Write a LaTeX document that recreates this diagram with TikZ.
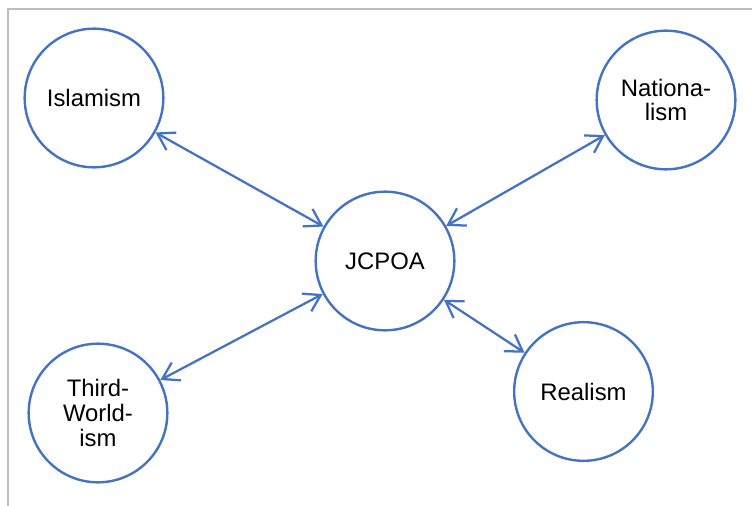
\documentclass[tikz,border=0pt]{standalone}
\usepackage{fontspec}
\setmainfont{Liberation Sans}
\usetikzlibrary{arrows.meta}
\definecolor{cblue}{HTML}{4472C4}
\definecolor{fgray}{RGB}{190,190,190}
\begin{document}
\begin{tikzpicture}[x=0.75pt,y=-0.75pt,
  concept/.style={circle,draw=cblue,line width=1.8pt,minimum size=104pt,inner sep=0pt,
    align=center,font=\fontsize{17.9}{18.5}\selectfont,text=black},
  link/.style={draw=cblue,line width=1.7pt,
    {Straight Barb[length=12pt,width=15pt]}-{Straight Barb[length=12pt,width=15pt]}}]
\useasboundingbox (0,0) rectangle (752,506);
\draw[fgray,line width=1.2pt] (8,506) -- (8,9) -- (752,9);
\node[concept] (isl) at (94,98) {Islamism};
\node[concept] (nat) at (666,100) {Nationa-\\lism};
\node[concept] (jc) at (385,261) {JCPOA};
\node[concept] (tw) at (98,413) {Third-\\World-\\ism};
\node[concept] (re) at (583.5,391.5) {Realism};
\draw[link] (isl) -- (jc);
\draw[link] (nat) -- (jc);
\draw[link] (tw) -- (jc);
\draw[link] (re) -- (jc);
\end{tikzpicture}
\end{document}
